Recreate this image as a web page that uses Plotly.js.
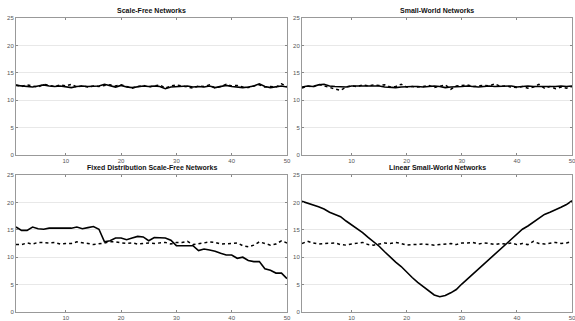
<!DOCTYPE html>
<html><head><meta charset="utf-8">
<script src="https://cdn.plot.ly/plotly-3.0.1.min.js"></script>
<style>body{margin:0;padding:0;background:#fff}#c{width:575px;height:321px}</style>
</head><body><div id="c"></div>
<script>
const xs = Array.from({length:50},(_, i)=>i+1);
const titles = ["Scale-Free Networks","Small-World Networks","Fixed Distribution Scale-Free Networks","Linear Small-World Networks"];
const sfSolid = [12.7,12.6,12.5,12.4,12.6,12.8,12.6,12.5,12.6,12.5,12.3,12.5,12.6,12.5,12.5,12.6,12.9,12.6,12.4,12.7,12.4,12.3,12.5,12.6,12.5,12.6,12.5,12.1,12.4,12.5,12.6,12.6,12.4,12.5,12.4,12.6,12.3,12.5,12.7,12.5,12.4,12.3,12.4,12.6,13.0,12.5,12.3,12.5,12.6,12.4];
const sfDash  = [12.8,12.5,12.8,12.6,12.4,12.9,12.7,12.5,12.8,12.6,12.9,12.4,12.6,12.4,12.6,12.5,12.7,12.8,12.6,12.8,12.5,12.2,12.5,12.7,12.4,12.6,12.8,12.2,12.6,12.8,12.6,12.4,12.2,12.6,12.5,12.8,12.2,12.5,12.9,12.6,12.7,12.4,12.3,12.6,12.8,12.4,12.5,12.4,13.0,12.5];
const swSolid = [12.4,12.6,12.5,12.8,12.9,12.6,12.5,12.5,12.4,12.6,12.6,12.6,12.5,12.5,12.6,12.4,12.3,12.3,12.4,12.5,12.5,12.5,12.4,12.5,12.6,12.5,12.3,12.4,12.4,12.5,12.6,12.5,12.4,12.5,12.6,12.5,12.5,12.6,12.6,12.4,12.5,12.6,12.5,12.5,12.4,12.5,12.5,12.6,12.5,12.6];
const swDash  = [12.2,12.6,12.4,12.9,12.6,12.3,12.1,11.8,12.4,12.6,12.5,12.8,12.6,12.8,12.7,12.8,12.4,12.5,12.9,12.4,12.5,12.4,12.5,12.7,12.3,12.6,12.8,12.0,12.6,12.7,12.8,12.5,12.6,12.7,12.6,13.0,12.5,12.6,12.4,12.3,12.5,12.2,12.4,12.9,12.2,12.5,12.1,12.4,12.2,12.5];
const fdSolid = [15.5,14.9,14.9,15.5,15.2,15.1,15.3,15.3,15.3,15.3,15.3,15.5,15.2,15.4,15.6,15.1,12.8,13.0,13.5,13.5,13.2,13.5,13.8,13.7,13.0,13.6,13.5,13.5,13.1,12.1,12.1,12.1,12.1,11.2,11.5,11.3,11.1,10.7,10.4,10.4,9.8,10.0,9.4,9.2,9.2,7.9,7.6,7.1,7.1,6.1];
const fdDash  = [12.3,12.3,12.6,12.4,12.7,12.6,12.6,12.7,12.4,12.5,12.5,12.8,12.7,12.5,12.3,12.4,12.6,12.8,12.8,12.6,12.5,12.6,12.4,12.5,12.6,12.5,12.6,12.7,12.4,12.7,12.7,12.9,12.3,12.4,12.6,12.8,12.7,12.4,12.4,12.5,12.6,12.1,11.9,12.2,12.8,12.5,12.2,12.4,13.0,12.6];
const lsSolid = [20.2,19.9,19.5,19.2,18.8,18.2,17.8,17.4,16.6,15.9,15.2,14.5,13.6,12.8,12.0,11.0,10.0,9.1,8.3,7.2,6.3,5.4,4.6,3.9,3.1,2.8,3.0,3.5,4.1,5.1,6.0,6.9,7.9,8.8,9.7,10.5,11.5,12.4,13.3,14.1,15.1,15.7,16.4,17.2,17.8,18.2,18.6,19.1,19.6,20.3];
const lsDash  = [12.5,12.9,12.6,12.4,12.5,12.6,12.6,12.3,12.2,12.4,12.5,12.7,12.3,12.2,12.4,12.6,12.5,12.7,12.5,12.2,12.3,12.4,12.4,12.3,12.2,12.3,12.4,12.5,12.3,12.6,12.6,12.7,12.4,12.6,12.5,12.3,12.5,12.4,12.6,12.3,12.5,12.3,12.9,12.5,12.4,12.5,12.7,12.5,12.6,12.9];

const solids = [sfSolid, swSolid, fdSolid, lsSolid];
const dashes = [sfDash, swDash, fdDash, lsDash];
const W = 575, H = 321;
const boxes = [[16,287,18,155],[302,572,18,155],[16,287,175,312],[302,572,175,312]];
const data = [];
const layout = {width:W,height:H,margin:{l:0,r:0,t:0,b:0},paper_bgcolor:'#fff',plot_bgcolor:'#fff',showlegend:false,annotations:[],
  font:{family:'Liberation Sans, Arial, sans-serif',size:6,color:'#555'}};
for (let i=0;i<4;i++){
  const s = i===0?'':String(i+1);
  data.push({x:xs,y:dashes[i],type:'scatter',mode:'lines',line:{color:'#000',width:1.5,dash:'3px,3px'},xaxis:'x'+s,yaxis:'y'+s});
  data.push({x:xs,y:solids[i],type:'scatter',mode:'lines',line:{color:'#000',width:1.6},xaxis:'x'+s,yaxis:'y'+s});
  const [l,r,t,b] = boxes[i];
  const ax = {domain:[l/W,r/W],range:[1,50],tickvals:[10,20,30,40,50],ticks:'inside',ticklen:2,tickcolor:'#888',
    showline:true,linecolor:'#999',linewidth:1,mirror:'ticks',showgrid:false,zeroline:false,anchor:'y'+s,
    ticklabeloverflow:'allow',tickfont:{size:6,color:'#555'}};
  const ay = {domain:[1-b/H,1-t/H],range:[0,25],tickvals:[0,5,10,15,20,25],ticks:'inside',ticklen:2,tickcolor:'#888',
    showline:true,linecolor:'#999',linewidth:1,mirror:'ticks',showgrid:true,gridcolor:'#e8e8e8',gridwidth:1,zeroline:false,anchor:'x'+s,
    tickfont:{size:6,color:'#555'}};
  layout['xaxis'+s]=ax; layout['yaxis'+s]=ay;
  layout.annotations.push({text:'<b>'+titles[i]+'</b>',xref:'paper',yref:'paper',x:(l+r)/2/W,y:1-(t-2)/H,xanchor:'center',yanchor:'bottom',showarrow:false,font:{size:7,color:'#111',family:'Liberation Sans, Arial, sans-serif'}});
}
Plotly.newPlot('c',data,layout,{staticPlot:true,displayModeBar:false});
</script></body></html>
